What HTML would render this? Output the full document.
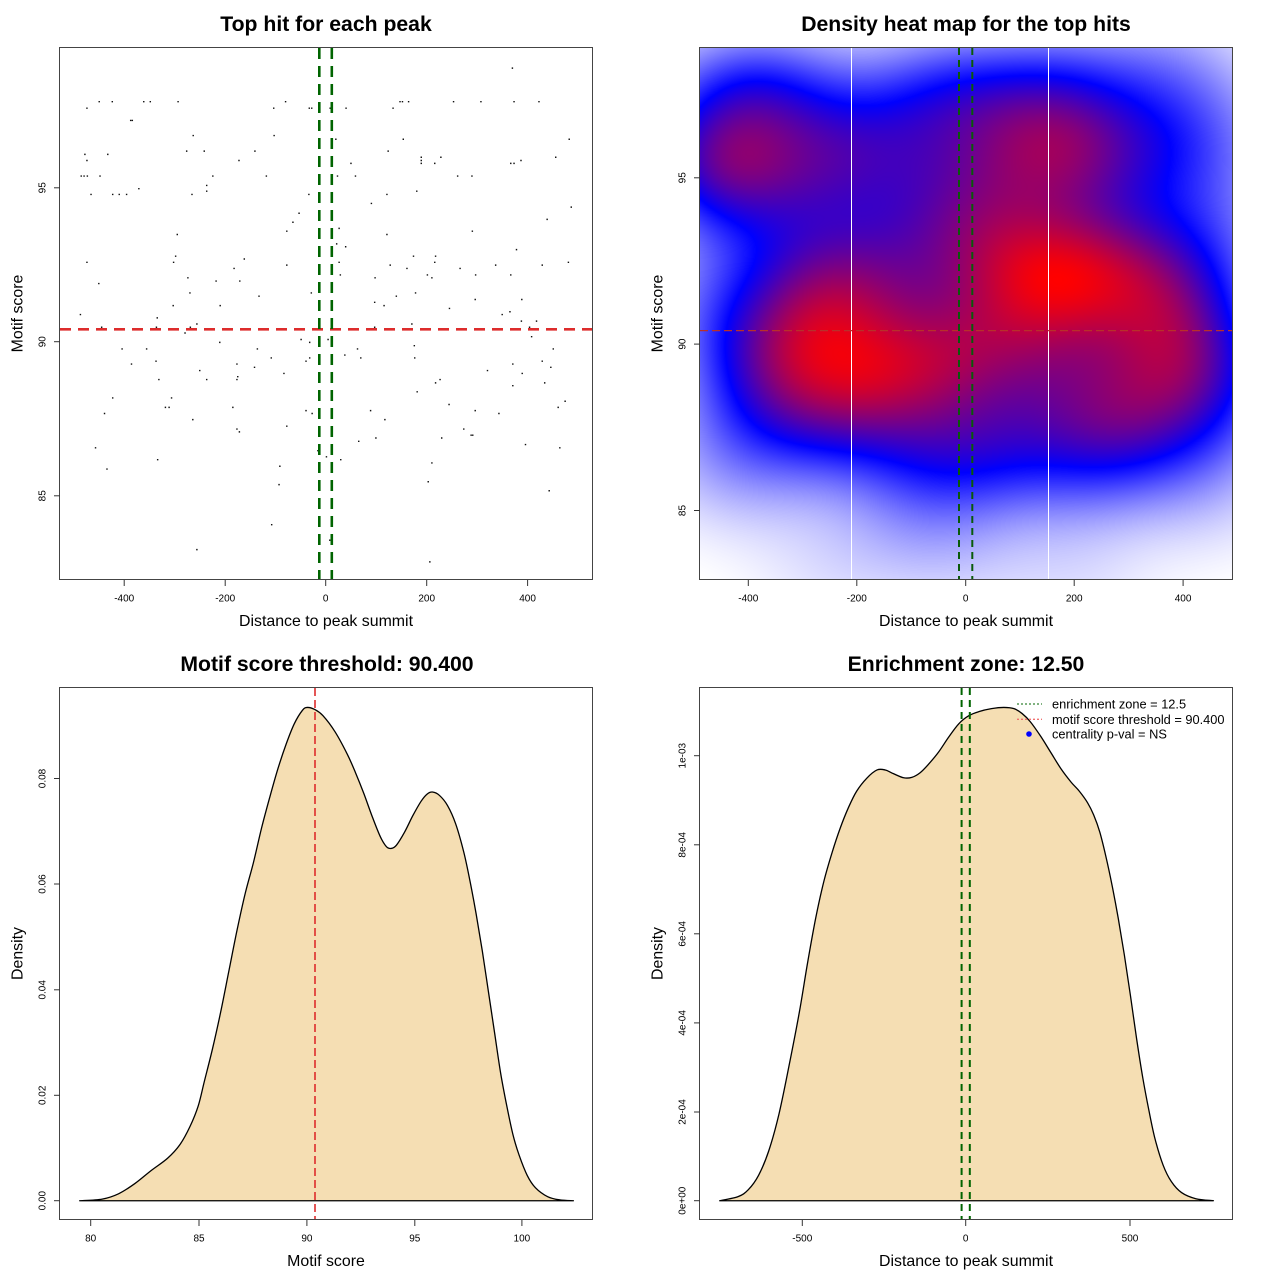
<!DOCTYPE html>
<html><head><meta charset="utf-8">
<style>
html,body{margin:0;padding:0;background:#fff;}
#wrap{position:relative;width:1280px;height:1280px;overflow:hidden;background:#fff;}
#fb{position:absolute;left:700px;top:48px;width:532px;height:532px;z-index:0;
background:radial-gradient(ellipse 22% 18% at 25% 55%, #ff0000, rgba(255,0,0,0) 100%),radial-gradient(ellipse 22% 18% at 63% 44%, #ff0000, rgba(255,0,0,0) 100%),#4010c8;}
#cv{position:absolute;left:700px;top:48px;width:532px;height:532px;z-index:1;}
svg{position:absolute;left:0;top:0;z-index:2;}
text{font-family:"Liberation Sans",Arial,sans-serif;fill:#000;}
.t{font-size:21.2px;font-weight:bold;text-anchor:middle;}
.l{font-size:15.9px;text-anchor:middle;}
.k{font-size:10px;text-anchor:middle;}
.g{font-size:12.8px;}
</style></head><body>
<div id="wrap">
<div id="fb"></div>
<canvas id="cv" width="532" height="532"></canvas>
<svg width="1280" height="1280" viewBox="0 0 1280 1280" xmlns="http://www.w3.org/2000/svg">
<!-- ========== Panel 1 ========== -->
<text class="t" x="326" y="31">Top hit for each peak</text>
<g transform="scale(0.4087)">
<path id="pts" fill="#111" d="M1252 165h3.5v3.5h-3.5zM241 247h3.5v3.5h-3.5zM273 247h3.5v3.5h-3.5zM350 247h3.5v3.5h-3.5zM366 247h3.5v3.5h-3.5zM434 247h3.5v3.5h-3.5zM697 247h3.5v3.5h-3.5zM977 247h3.5v3.5h-3.5zM983 247h3.5v3.5h-3.5zM998 247h3.5v3.5h-3.5zM1108 247h3.5v3.5h-3.5zM1175 247h3.5v3.5h-3.5zM1256 247h3.5v3.5h-3.5zM1317 247h3.5v3.5h-3.5zM211 263h3.5v3.5h-3.5zM668 263h3.5v3.5h-3.5zM755 263h3.5v3.5h-3.5zM761 263h3.5v3.5h-3.5zM806 263h3.5v3.5h-3.5zM845 263h3.5v3.5h-3.5zM960 263h3.5v3.5h-3.5zM318 293h3.5v3.5h-3.5zM322 293h3.5v3.5h-3.5zM471 330h3.5v3.5h-3.5zM669 330h3.5v3.5h-3.5zM820 339h3.5v3.5h-3.5zM985 339h3.5v3.5h-3.5zM1391 339h3.5v3.5h-3.5zM455 368h3.5v3.5h-3.5zM498 368h3.5v3.5h-3.5zM622 368h3.5v3.5h-3.5zM948 368h3.5v3.5h-3.5zM206 376h3.5v3.5h-3.5zM262 376h3.5v3.5h-3.5zM1029 383h3.5v3.5h-3.5zM1077 383h3.5v3.5h-3.5zM1358 383h3.5v3.5h-3.5zM211 391h3.5v3.5h-3.5zM583 391h3.5v3.5h-3.5zM1029 391h3.5v3.5h-3.5zM1273 391h3.5v3.5h-3.5zM857 398h3.5v3.5h-3.5zM1029 398h3.5v3.5h-3.5zM1062 398h3.5v3.5h-3.5zM1248 398h3.5v3.5h-3.5zM1256 398h3.5v3.5h-3.5zM197 429h3.5v3.5h-3.5zM204 429h3.5v3.5h-3.5zM212 429h3.5v3.5h-3.5zM243 429h3.5v3.5h-3.5zM519 429h3.5v3.5h-3.5zM650 429h3.5v3.5h-3.5zM824 429h3.5v3.5h-3.5zM868 429h3.5v3.5h-3.5zM1118 429h3.5v3.5h-3.5zM1153 429h3.5v3.5h-3.5zM504 452h3.5v3.5h-3.5zM504 466h3.5v3.5h-3.5zM338 460h3.5v3.5h-3.5zM1018 466h3.5v3.5h-3.5zM221 474h3.5v3.5h-3.5zM274 474h3.5v3.5h-3.5zM290 474h3.5v3.5h-3.5zM308 474h3.5v3.5h-3.5zM468 474h3.5v3.5h-3.5zM754 474h3.5v3.5h-3.5zM945 474h3.5v3.5h-3.5zM907 496h3.5v3.5h-3.5zM1396 505h3.5v3.5h-3.5zM730 520h3.5v3.5h-3.5zM1337 535h3.5v3.5h-3.5zM715 542h3.5v3.5h-3.5zM828 557h3.5v3.5h-3.5zM700 564h3.5v3.5h-3.5zM1154 564h3.5v3.5h-3.5zM432 572h3.5v3.5h-3.5zM945 572h3.5v3.5h-3.5zM822 595h3.5v3.5h-3.5zM844 602h3.5v3.5h-3.5zM1262 609h3.5v3.5h-3.5zM428 625h3.5v3.5h-3.5zM1010 625h3.5v3.5h-3.5zM1064 625h3.5v3.5h-3.5zM596 632h3.5v3.5h-3.5zM211 640h3.5v3.5h-3.5zM423 640h3.5v3.5h-3.5zM828 640h3.5v3.5h-3.5zM1062 640h3.5v3.5h-3.5zM1389 640h3.5v3.5h-3.5zM700 647h3.5v3.5h-3.5zM953 647h3.5v3.5h-3.5zM1211 647h3.5v3.5h-3.5zM1325 647h3.5v3.5h-3.5zM571 655h3.5v3.5h-3.5zM994 655h3.5v3.5h-3.5zM1124 655h3.5v3.5h-3.5zM831 671h3.5v3.5h-3.5zM1044 671h3.5v3.5h-3.5zM1162 671h3.5v3.5h-3.5zM1248 671h3.5v3.5h-3.5zM458 678h3.5v3.5h-3.5zM916 678h3.5v3.5h-3.5zM1055 678h3.5v3.5h-3.5zM527 686h3.5v3.5h-3.5zM585 686h3.5v3.5h-3.5zM240 692h3.5v3.5h-3.5zM463 715h3.5v3.5h-3.5zM760 715h3.5v3.5h-3.5zM1015 715h3.5v3.5h-3.5zM632 723h3.5v3.5h-3.5zM968 723h3.5v3.5h-3.5zM1161 731h3.5v3.5h-3.5zM1275 731h3.5v3.5h-3.5zM915 738h3.5v3.5h-3.5zM422 746h3.5v3.5h-3.5zM537 746h3.5v3.5h-3.5zM938 746h3.5v3.5h-3.5zM1098 753h3.5v3.5h-3.5zM1246 761h3.5v3.5h-3.5zM195 768h3.5v3.5h-3.5zM1227 768h3.5v3.5h-3.5zM383 776h3.5v3.5h-3.5zM1274 784h3.5v3.5h-3.5zM1311 784h3.5v3.5h-3.5zM480 791h3.5v3.5h-3.5zM1006 791h3.5v3.5h-3.5zM247 799h3.5v3.5h-3.5zM381 799h3.5v3.5h-3.5zM464 799h3.5v3.5h-3.5zM915 799h3.5v3.5h-3.5zM1294 799h3.5v3.5h-3.5zM451 813h3.5v3.5h-3.5zM1299 822h3.5v3.5h-3.5zM735 829h3.5v3.5h-3.5zM801 829h3.5v3.5h-3.5zM536 836h3.5v3.5h-3.5zM756 836h3.5v3.5h-3.5zM1012 844h3.5v3.5h-3.5zM297 852h3.5v3.5h-3.5zM357 852h3.5v3.5h-3.5zM628 852h3.5v3.5h-3.5zM873 852h3.5v3.5h-3.5zM1352 852h3.5v3.5h-3.5zM842 867h3.5v3.5h-3.5zM662 874h3.5v3.5h-3.5zM756 874h3.5v3.5h-3.5zM881 874h3.5v3.5h-3.5zM1013 874h3.5v3.5h-3.5zM380 882h3.5v3.5h-3.5zM747 882h3.5v3.5h-3.5zM1325 882h3.5v3.5h-3.5zM320 889h3.5v3.5h-3.5zM578 889h3.5v3.5h-3.5zM1253 889h3.5v3.5h-3.5zM621 897h3.5v3.5h-3.5zM1346 897h3.5v3.5h-3.5zM487 905h3.5v3.5h-3.5zM1191 905h3.5v3.5h-3.5zM693 912h3.5v3.5h-3.5zM1276 912h3.5v3.5h-3.5zM580 920h3.5v3.5h-3.5zM387 927h3.5v3.5h-3.5zM504 927h3.5v3.5h-3.5zM578 927h3.5v3.5h-3.5zM1075 927h3.5v3.5h-3.5zM1064 935h3.5v3.5h-3.5zM1331 935h3.5v3.5h-3.5zM1253 942h3.5v3.5h-3.5zM1019 957h3.5v3.5h-3.5zM274 972h3.5v3.5h-3.5zM418 972h3.5v3.5h-3.5zM1381 980h3.5v3.5h-3.5zM1097 988h3.5v3.5h-3.5zM403 995h3.5v3.5h-3.5zM412 995h3.5v3.5h-3.5zM568 995h3.5v3.5h-3.5zM1364 995h3.5v3.5h-3.5zM747 1003h3.5v3.5h-3.5zM905 1003h3.5v3.5h-3.5zM1161 1003h3.5v3.5h-3.5zM254 1010h3.5v3.5h-3.5zM762 1010h3.5v3.5h-3.5zM1219 1010h3.5v3.5h-3.5zM470 1025h3.5v3.5h-3.5zM940 1025h3.5v3.5h-3.5zM700 1041h3.5v3.5h-3.5zM578 1048h3.5v3.5h-3.5zM1133 1048h3.5v3.5h-3.5zM584 1055h3.5v3.5h-3.5zM1151 1063h3.5v3.5h-3.5zM1155 1063h3.5v3.5h-3.5zM918 1070h3.5v3.5h-3.5zM1079 1070h3.5v3.5h-3.5zM876 1078h3.5v3.5h-3.5zM1284 1086h3.5v3.5h-3.5zM232 1094h3.5v3.5h-3.5zM1368 1094h3.5v3.5h-3.5zM776 1101h3.5v3.5h-3.5zM797 1116h3.5v3.5h-3.5zM384 1123h3.5v3.5h-3.5zM832 1123h3.5v3.5h-3.5zM1055 1131h3.5v3.5h-3.5zM683 1139h3.5v3.5h-3.5zM260 1146h3.5v3.5h-3.5zM1046 1177h3.5v3.5h-3.5zM681 1184h3.5v3.5h-3.5zM1342 1199h3.5v3.5h-3.5zM663 1282h3.5v3.5h-3.5zM805 1320h3.5v3.5h-3.5zM480 1343h3.5v3.5h-3.5zM1050 1373h3.5v3.5h-3.5z"/>
</g>
<line x1="60" y1="329.3" x2="592" y2="329.3" stroke="#dd2c2c" stroke-width="2.6" stroke-dasharray="11 7"/>
<line x1="319.3" y1="48" x2="319.3" y2="580" stroke="#006400" stroke-width="2.6" stroke-dasharray="11 7"/>
<line x1="331.8" y1="48" x2="331.8" y2="580" stroke="#006400" stroke-width="2.6" stroke-dasharray="11 7"/>
<rect x="59.5" y="47.5" width="533" height="532" fill="none" stroke="#444" stroke-width="1"/>
<g stroke="#333" stroke-width="1">
<line x1="124.2" y1="580" x2="124.2" y2="586"/><line x1="225.2" y1="580" x2="225.2" y2="586"/><line x1="325.7" y1="580" x2="325.7" y2="586"/><line x1="426.7" y1="580" x2="426.7" y2="586"/><line x1="527.6" y1="580" x2="527.6" y2="586"/>
<line x1="54" y1="187.8" x2="60" y2="187.8"/><line x1="54" y1="341.7" x2="60" y2="341.7"/><line x1="54" y1="495.8" x2="60" y2="495.8"/>
</g>
<text class="k" x="124.2" y="601.5">-400</text><text class="k" x="225.2" y="601.5">-200</text><text class="k" x="325.7" y="601.5">0</text><text class="k" x="426.7" y="601.5">200</text><text class="k" x="527.6" y="601.5">400</text>
<text class="k" transform="translate(45.5,187.8) rotate(-90)">95</text>
<text class="k" transform="translate(45.5,341.7) rotate(-90)">90</text>
<text class="k" transform="translate(45.5,495.8) rotate(-90)">85</text>
<text class="l" x="326" y="626">Distance to peak summit</text>
<text class="l" transform="translate(22.5,313.5) rotate(-90)">Motif score</text>

<!-- ========== Panel 2 ========== -->
<text class="t" x="966" y="31">Density heat map for the top hits</text>
<line x1="851.5" y1="48" x2="851.5" y2="580" stroke="#fff" stroke-width="1"/>
<line x1="1048.5" y1="48" x2="1048.5" y2="580" stroke="#fff" stroke-width="1"/>
<line x1="700" y1="330.6" x2="1232" y2="330.6" stroke="#b8302a" stroke-width="1.3" stroke-dasharray="8 4"/>
<line x1="959" y1="48" x2="959" y2="580" stroke="#0a5a0a" stroke-width="2" stroke-dasharray="7 5"/>
<line x1="972.3" y1="48" x2="972.3" y2="580" stroke="#0a5a0a" stroke-width="2" stroke-dasharray="7 5"/>
<rect x="699.5" y="47.5" width="533" height="532" fill="none" stroke="#444" stroke-width="1"/>
<g stroke="#333" stroke-width="1">
<line x1="748.3" y1="580" x2="748.3" y2="586"/><line x1="856.8" y1="580" x2="856.8" y2="586"/><line x1="965.7" y1="580" x2="965.7" y2="586"/><line x1="1074.2" y1="580" x2="1074.2" y2="586"/><line x1="1183.1" y1="580" x2="1183.1" y2="586"/>
<line x1="694" y1="177.8" x2="700" y2="177.8"/><line x1="694" y1="344.1" x2="700" y2="344.1"/><line x1="694" y1="510.5" x2="700" y2="510.5"/>
</g>
<text class="k" x="748.3" y="601.5">-400</text><text class="k" x="856.8" y="601.5">-200</text><text class="k" x="965.7" y="601.5">0</text><text class="k" x="1074.2" y="601.5">200</text><text class="k" x="1183.1" y="601.5">400</text>
<text class="k" transform="translate(685.5,177.8) rotate(-90)">95</text>
<text class="k" transform="translate(685.5,344.1) rotate(-90)">90</text>
<text class="k" transform="translate(685.5,510.5) rotate(-90)">85</text>
<text class="l" x="966" y="626">Distance to peak summit</text>
<text class="l" transform="translate(662.5,313.5) rotate(-90)">Motif score</text>

<!-- ========== Panel 3 ========== -->
<text class="t" x="327" y="671">Motif score threshold: 90.400</text>
<g transform="translate(0,640) scale(0.4087)">
<polygon class="crv" fill="#F5DEB3" stroke="#000" stroke-width="1.3" vector-effect="non-scaling-stroke" stroke-linejoin="round" points="195,1372 250,1368 290,1355 330,1330 370,1298 410,1268 440,1235 465,1190 485,1140 500,1080 520,1000 540,910 560,810 580,710 600,620 620,545 640,460 660,385 680,315 700,255 720,205 740,172 752,165 770,170 790,185 820,225 850,280 870,325 890,375 910,430 930,480 945,505 957,510 970,502 990,470 1010,430 1030,395 1045,377 1058,372 1075,380 1095,405 1115,450 1135,520 1150,590 1165,670 1180,760 1195,860 1210,960 1225,1060 1240,1140 1255,1210 1270,1260 1290,1310 1310,1340 1340,1362 1370,1370 1403,1372"/>
</g>
<line x1="315" y1="688" x2="315" y2="1219" stroke="#dd2c2c" stroke-width="1.6" stroke-dasharray="8 4"/>
<rect x="59.5" y="687.5" width="533" height="532" fill="none" stroke="#444" stroke-width="1"/>
<g stroke="#333" stroke-width="1">
<line x1="90.7" y1="1220" x2="90.7" y2="1226"/><line x1="199" y1="1220" x2="199" y2="1226"/><line x1="306.9" y1="1220" x2="306.9" y2="1226"/><line x1="414.8" y1="1220" x2="414.8" y2="1226"/><line x1="521.9" y1="1220" x2="521.9" y2="1226"/>
<line x1="54" y1="1200.7" x2="60" y2="1200.7"/><line x1="54" y1="1095.3" x2="60" y2="1095.3"/><line x1="54" y1="989.8" x2="60" y2="989.8"/><line x1="54" y1="884" x2="60" y2="884"/><line x1="54" y1="778.5" x2="60" y2="778.5"/>
</g>
<text class="k" x="90.7" y="1241.5">80</text><text class="k" x="199" y="1241.5">85</text><text class="k" x="306.9" y="1241.5">90</text><text class="k" x="414.8" y="1241.5">95</text><text class="k" x="521.9" y="1241.5">100</text>
<text class="k" transform="translate(45.5,1200.7) rotate(-90)">0.00</text>
<text class="k" transform="translate(45.5,1095.3) rotate(-90)">0.02</text>
<text class="k" transform="translate(45.5,989.8) rotate(-90)">0.04</text>
<text class="k" transform="translate(45.5,884) rotate(-90)">0.06</text>
<text class="k" transform="translate(45.5,778.5) rotate(-90)">0.08</text>
<text class="l" x="326" y="1266">Motif score</text>
<text class="l" transform="translate(22.5,953.5) rotate(-90)">Density</text>

<!-- ========== Panel 4 ========== -->
<text class="t" x="966" y="671">Enrichment zone: 12.50</text>
<g transform="translate(640,640) scale(0.4087)">
<polygon class="crv" fill="#F5DEB3" stroke="#000" stroke-width="1.3" vector-effect="non-scaling-stroke" stroke-linejoin="round" points="195,1372 240,1362 265,1345 290,1310 315,1250 340,1160 365,1040 390,910 410,790 430,680 450,590 470,520 490,460 510,410 530,370 555,338 580,318 600,318 620,327 645,337 665,336 685,325 705,305 730,275 755,238 780,205 805,185 830,175 860,168 890,165 915,168 935,180 955,200 980,235 1005,275 1030,315 1055,348 1075,370 1095,398 1110,428 1125,470 1140,530 1155,600 1170,680 1185,770 1200,870 1215,975 1230,1070 1245,1150 1260,1220 1280,1285 1300,1325 1325,1352 1360,1367 1403,1372"/>
</g>
<line x1="961.6" y1="688" x2="961.6" y2="1219" stroke="#006400" stroke-width="2" stroke-dasharray="7 5"/>
<line x1="969.8" y1="688" x2="969.8" y2="1219" stroke="#006400" stroke-width="2" stroke-dasharray="7 5"/>
<rect x="699.5" y="687.5" width="533" height="532" fill="none" stroke="#444" stroke-width="1"/>
<g stroke="#333" stroke-width="1">
<line x1="802.3" y1="1220" x2="802.3" y2="1226"/><line x1="965.7" y1="1220" x2="965.7" y2="1226"/><line x1="1130" y1="1220" x2="1130" y2="1226"/>
<line x1="694" y1="1200.7" x2="700" y2="1200.7"/><line x1="694" y1="1112" x2="700" y2="1112"/><line x1="694" y1="1022.9" x2="700" y2="1022.9"/><line x1="694" y1="933.8" x2="700" y2="933.8"/><line x1="694" y1="844.8" x2="700" y2="844.8"/><line x1="694" y1="755.7" x2="700" y2="755.7"/>
</g>
<text class="k" x="802.3" y="1241.5">-500</text><text class="k" x="965.7" y="1241.5">0</text><text class="k" x="1130" y="1241.5">500</text>
<text class="k" transform="translate(685.5,1200.7) rotate(-90)">0e+00</text>
<text class="k" transform="translate(685.5,1112) rotate(-90)">2e-04</text>
<text class="k" transform="translate(685.5,1022.9) rotate(-90)">4e-04</text>
<text class="k" transform="translate(685.5,933.8) rotate(-90)">6e-04</text>
<text class="k" transform="translate(685.5,844.8) rotate(-90)">8e-04</text>
<text class="k" transform="translate(685.5,755.7) rotate(-90)">1e-03</text>
<text class="l" x="966" y="1266">Distance to peak summit</text>
<text class="l" transform="translate(662.5,953.5) rotate(-90)">Density</text>
<!-- legend -->
<line x1="1017" y1="704" x2="1042" y2="704" stroke="#006400" stroke-width="1" stroke-dasharray="2 2"/>
<line x1="1017" y1="719.3" x2="1042" y2="719.3" stroke="#f07070" stroke-width="1.3" stroke-dasharray="2 2"/>
<circle cx="1029" cy="734" r="2.8" fill="#0000ff"/>
<text class="g" x="1052" y="708.5">enrichment zone = 12.5</text>
<text class="g" x="1052" y="723.8">motif score threshold = 90.400</text>
<text class="g" x="1052" y="738.5">centrality p-val = NS</text>
</svg>
</div>
<script>
(function(){
  /* smooth density curves (Catmull-Rom -> cubic Bezier) */
  var NS='http://www.w3.org/2000/svg';
  var polys=document.querySelectorAll('polygon.crv');
  for(var q=0;q<polys.length;q++){
    var pg=polys[q];
    var a=pg.getAttribute('points').trim().split(/\s+/).map(function(s){var t=s.split(',');return [+t[0],+t[1]];});
    var d='M'+a[0][0]+' '+a[0][1];
    for(var i=0;i<a.length-1;i++){
      var p0=a[Math.max(i-1,0)],p1=a[i],p2=a[i+1],p3=a[Math.min(i+2,a.length-1)];
      var c1x=p1[0]+(p2[0]-p0[0])/6,c1y=p1[1]+(p2[1]-p0[1])/6,c2x=p2[0]-(p3[0]-p1[0])/6,c2y=p2[1]-(p3[1]-p1[1])/6;
      d+='C'+c1x.toFixed(2)+' '+c1y.toFixed(2)+' '+c2x.toFixed(2)+' '+c2y.toFixed(2)+' '+p2[0]+' '+p2[1];
    }
    d+='Z';
    var p=document.createElementNS(NS,'path');
    p.setAttribute('d',d);
    ['fill','stroke','stroke-width','vector-effect','stroke-linejoin'].forEach(function(k){p.setAttribute(k,pg.getAttribute(k));});
    pg.parentNode.replaceChild(p,pg);
  }

  /* 2D KDE heat map */
  var dd=document.getElementById('pts').getAttribute('d');
  var re=/M(\d+) (\d+)/g,m,X=[],Y=[];
  while((m=re.exec(dd))){
    var zx=+m[1]+1.75, zy=+m[2]+1.75;
    X.push((zx-797)/1.235);
    Y.push(90+(836-zy)/75.4);
  }
  function quant(a,p){var s=a.slice().sort(function(u,v){return u-v;});var h=(s.length-1)*p;var lo=Math.floor(h);var hi=Math.min(lo+1,s.length-1);return s[lo]+(h-lo)*(s[hi]-s[lo]);}
  function bw(a){var n=a.length,mean=0,i;for(i=0;i<n;i++)mean+=a[i];mean/=n;var v=0;for(i=0;i<n;i++)v+=(a[i]-mean)*(a[i]-mean);var sd=Math.sqrt(v/(n-1));var iq=(quant(a,.75)-quant(a,.25))/1.34;return 4*1.06*Math.min(sd,iq)*Math.pow(n,-0.2);}
  var hx=bw(X)/4, hy=bw(Y)/4;
  var W=532,H=532,n=X.length,k=0.4087,px,py;
  var gx=new Float64Array(n*W), gy=new Float64Array(n*H);
  for(px=0;px<W;px++){
    var zx2=(700+px+0.5-640)/k, xd=(zx2-797)/1.33;
    for(var i=0;i<n;i++){var u=(xd-X[i])/hx;gx[i*W+px]=Math.exp(-0.5*u*u);}
  }
  for(py=0;py<H;py++){
    var zy2=(48+py+0.5)/k, yd=90+(842-zy2)/81.4;
    for(var i2=0;i2<n;i2++){var w=(yd-Y[i2])/hy;gy[i2*H+py]=Math.exp(-0.5*w*w);}
  }
  var z=new Float64Array(W*H),zmin=1e99,zmax=-1e99;
  for(py=0;py<H;py++){
    for(px=0;px<W;px++){
      var s=0;
      for(var j2=0;j2<n;j2++){s+=gx[j2*W+px]*gy[j2*H+py];}
      z[py*W+px]=s; if(s<zmin)zmin=s; if(s>zmax)zmax=s;
    }
  }
  var cv=document.getElementById('cv'),ctx=cv.getContext('2d');
  var img=ctx.createImageData(W,H),D=img.data;
  for(var j=0;j<W*H;j++){
    var t=(z[j]-zmin)/(zmax-zmin),r,g,b;
    if(t<0.5){var q1=t*2;r=255*(1-q1);g=r;b=255;}
    else{var q2=(t-0.5)*2;r=255*q2;g=0;b=255*(1-q2);}
    D[j*4]=r;D[j*4+1]=g;D[j*4+2]=b;D[j*4+3]=255;
  }
  ctx.putImageData(img,0,0);
})();
</script>
</body></html>
